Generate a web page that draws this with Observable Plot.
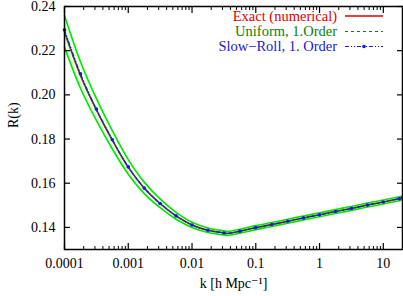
<!DOCTYPE html>
<html><head><meta charset="utf-8">
<script src="https://cdn.jsdelivr.net/npm/d3@7"></script>
<script src="https://cdn.jsdelivr.net/npm/@observablehq/plot@0.6"></script>
<style>
body{margin:0;background:#fff}
#wrap{position:relative;width:403px;height:296px;font-family:'Liberation Serif','DejaVu Serif','Noto Serif',serif}
.row{position:absolute;right:66px;font-size:14.5px;line-height:14px;white-space:nowrap;text-align:right}
#legsvg{position:absolute;left:0;top:0}
</style></head><body><div id="wrap"></div>
<script>
// wavenumber k [h/Mpc]
const k = [0.0001, 0.000178, 0.000316, 0.000562, 0.001, 0.00178, 0.00316, 0.00562, 0.01, 0.0178, 0.0316, 0.037, 0.0562, 0.1, 0.178, 0.316, 0.562, 1, 1.78, 3.16, 5.62, 10, 17.8, 20];
// Exact (numerical)
const exact = [0.2284, 0.2088, 0.1932, 0.1795, 0.1673, 0.1578, 0.1508, 0.1452, 0.1411, 0.1387, 0.1375, 0.1373, 0.1383, 0.1399, 0.1413, 0.1428, 0.1443, 0.1457, 0.1472, 0.1486, 0.1501, 0.1515, 0.1530, 0.1533];
// Uniform, 1. Order
const uniform = [0.2284, 0.2088, 0.1932, 0.1795, 0.1673, 0.1578, 0.1508, 0.1452, 0.1411, 0.1387, 0.1375, 0.1373, 0.1383, 0.1399, 0.1413, 0.1428, 0.1443, 0.1457, 0.1472, 0.1486, 0.1501, 0.1515, 0.1530, 0.1533];
// Slow-Roll, 1. Order
const slowroll = [0.2294, 0.2095, 0.1936, 0.1797, 0.1674, 0.1578, 0.1508, 0.1452, 0.1411, 0.1387, 0.1375, 0.1373, 0.1383, 0.1399, 0.1413, 0.1428, 0.1443, 0.1457, 0.1472, 0.1486, 0.1501, 0.1515, 0.1530, 0.1533];
// uniform approximation error band
const bandUpper = [0.2359, 0.2150, 0.1984, 0.1838, 0.1707, 0.1605, 0.1529, 0.1468, 0.1423, 0.1397, 0.1384, 0.1382, 0.1392, 0.1408, 0.1422, 0.1437, 0.1452, 0.1466, 0.1481, 0.1495, 0.1510, 0.1524, 0.1539, 0.1542];
const bandLower = [0.2216, 0.2030, 0.1884, 0.1755, 0.1641, 0.1553, 0.1489, 0.1437, 0.1400, 0.1377, 0.1366, 0.1364, 0.1374, 0.1390, 0.1404, 0.1419, 0.1434, 0.1448, 0.1463, 0.1477, 0.1492, 0.1506, 0.1521, 0.1524];
// ticks
const xTicks = [0.0001, 0.001, 0.01, 0.1, 1, 10];
const yTicks = [0.14, 0.16, 0.18, 0.20, 0.22, 0.24];
const legendLabels = ["Exact (numerical)", "Uniform, 1.Order", "Slow\u2212Roll, 1. Order"];

const xMinor = [];
xTicks.forEach(t => [2,3,4,5,6,7,8,9].forEach(m => { if (t*m <= 20) xMinor.push(t*m); }));

const rows = k.map((d,i) => ({k:d, exact:exact[i], uniform:uniform[i], slow:slowroll[i], lo:bandLower[i], hi:bandUpper[i]}));
const dotRows = rows.filter((d,i) => i !== 11);

const RED = "#e00000", GREEN = "#0a800a", BLUE = "#1a1acc", LIME = "#00e600";
const FONT = "'Liberation Serif', 'DejaVu Serif', 'Noto Serif', serif";

const chart = Plot.plot({
  width: 403, height: 296,
  marginLeft: 64, marginRight: 1, marginTop: 6, marginBottom: 47,
  style: {fontFamily: FONT, fontSize: "14px", background: "#fff", color: "#000"},
  x: {type: "log", domain: [0.0001, 20]},
  y: {domain: [0.13, 0.24]},
  marks: [
    Plot.areaY(rows, {x: "k", y1: "lo", y2: "hi", fill: "#eaffea", curve: "catmull-rom"}),
    Plot.line(rows, {x: "k", y: "hi", stroke: LIME, strokeWidth: 1.6, curve: "catmull-rom"}),
    Plot.line(rows, {x: "k", y: "lo", stroke: LIME, strokeWidth: 1.6, curve: "catmull-rom"}),
    Plot.line(rows, {x: "k", y: "exact", stroke: RED, strokeWidth: 1.5, curve: "catmull-rom"}),
    Plot.line(rows, {x: "k", y: "uniform", stroke: GREEN, strokeWidth: 1.2, strokeDasharray: "3,3", curve: "catmull-rom"}),
    Plot.line(rows, {x: "k", y: "slow", stroke: BLUE, strokeWidth: 1.2, strokeDasharray: "4,2,1,2,1,2", curve: "catmull-rom"}),
    Plot.dot(dotRows, {x: "k", y: "slow", r: 1.8, fill: BLUE, stroke: null}),
    Plot.axisX(xTicks, {anchor: "bottom", tickSize: -6, text: null, label: null, strokeWidth: 1.2}),
    Plot.axisX(xMinor, {anchor: "bottom", tickSize: -3, text: null, label: null, strokeWidth: 1}),
    Plot.axisX(xTicks, {anchor: "top", tickSize: -6, text: null, label: null, strokeWidth: 1.2}),
    Plot.axisX(xMinor, {anchor: "top", tickSize: -3, text: null, label: null, strokeWidth: 1}),
    Plot.axisX(xTicks, {anchor: "bottom", tickSize: 0, tickPadding: 9, tickFormat: d => String(d), label: null, fontFamily: FONT}),
    Plot.axisY(yTicks, {anchor: "left", tickSize: -6, text: null, label: null, strokeWidth: 1.2}),
    Plot.axisY(yTicks, {anchor: "right", tickSize: -6, text: null, label: null, strokeWidth: 1.2}),
    Plot.axisY(yTicks, {anchor: "left", tickSize: 0, tickPadding: 9, tickFormat: ".2f", label: null, fontFamily: FONT}),
    Plot.frame({stroke: "#000", strokeWidth: 1.5}),
    Plot.text(["k [h Mpc\u207B\u00B9]"], {frameAnchor: "bottom", dy: 38, fontSize: 14, fontFamily: FONT}),
    Plot.text(["R(k)"], {frameAnchor: "left", dx: -51, rotate: -90, fontSize: 14, fontFamily: FONT})
  ]
});
const wrap = document.getElementById("wrap");
wrap.appendChild(chart);

// legend overlay
const colors = [RED, GREEN, BLUE];
const ys = [16, 31.5, 46.5];
legendLabels.forEach((t,i) => {
  const d = document.createElement("div");
  d.className = "row";
  d.textContent = t;
  d.style.color = colors[i];
  d.style.top = (ys[i] - 7.5) + "px";
  wrap.appendChild(d);
});
const ns = "http://www.w3.org/2000/svg";
const sv = document.createElementNS(ns, "svg");
sv.setAttribute("id", "legsvg"); sv.setAttribute("width", 403); sv.setAttribute("height", 60);
const samples = [
  {c: RED, dash: null, w: 1.5},
  {c: GREEN, dash: "3,3", w: 1.2},
  {c: BLUE, dash: "4,2,1,2,1,2", w: 1.2}
];
samples.forEach((s,i) => {
  const l = document.createElementNS(ns, "line");
  l.setAttribute("x1", 345); l.setAttribute("x2", 383);
  l.setAttribute("y1", ys[i]); l.setAttribute("y2", ys[i]);
  l.setAttribute("stroke", s.c); l.setAttribute("stroke-width", s.w);
  if (s.dash) l.setAttribute("stroke-dasharray", s.dash);
  sv.appendChild(l);
});
const c = document.createElementNS(ns, "circle");
c.setAttribute("cx", 364); c.setAttribute("cy", ys[2]); c.setAttribute("r", 1.8); c.setAttribute("fill", BLUE);
sv.appendChild(c);
wrap.appendChild(sv);
</script></body></html>
